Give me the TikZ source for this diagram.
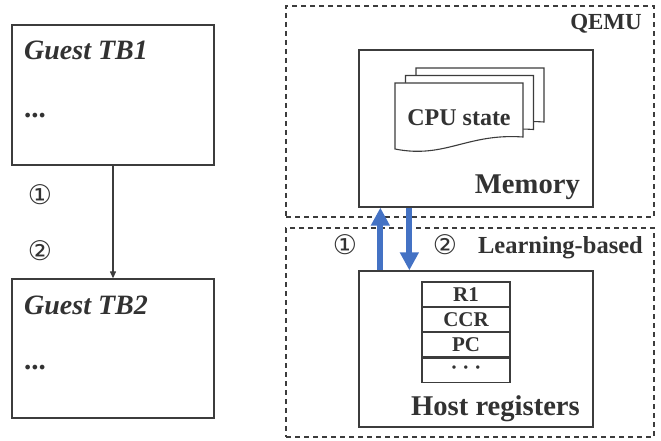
\documentclass[tikz,border=0pt]{standalone}
\usepackage{fontspec}
\setmainfont{Liberation Serif}
\newfontfamily\circfont{DejaVu Sans}
\usetikzlibrary{positioning,arrows.meta}
\definecolor{darkgrey}{RGB}{50,50,50}
\definecolor{boxgrey}{RGB}{60,60,60}
\definecolor{qblue}{RGB}{68,114,196}

\tikzset{
  solidbox/.style={draw=boxgrey, line width=1.3pt},
  dashbox/.style={draw=boxgrey, line width=1.2pt, dash pattern=on 5pt off 4pt},
  regcell/.style={draw=boxgrey, line width=1.1pt, minimum width=88pt,
    minimum height=24.25pt, font=\fontsize{21}{21}\selectfont\bfseries},
  guestlbl/.style={font=\fontsize{28}{28}\selectfont\bfseries\itshape},
  dotslbl/.style={font=\fontsize{29}{29}\selectfont\bfseries},
  biglbl/.style={font=\fontsize{28.6}{28.6}\selectfont\bfseries},
  arealbl/.style={font=\fontsize{23}{23}\selectfont\bfseries},
  circnum/.style={font=\fontsize{27}{27}\circfont},
  docline/.style={draw=boxgrey, fill=white, line width=1.1pt},
  linkarrow/.style={draw=boxgrey, line width=1.2pt, -{Triangle[length=7pt,width=6pt]}},
  bluearrow/.style={draw=qblue, line width=6pt, -{Triangle[length=18pt,width=18pt]}}
}

% one sheet of the CPU state stack, top left corner at (#1,#2)
\newcommand{\statesheet}[2]{%
  \path[docline, shift={(#1,#2)}] (0,0) -- (128,0) -- (128,54)
    .. controls (72,50) and (50,76) .. (0,66) -- cycle;
}

\begin{document}
\begin{tikzpicture}[x=1pt,y=-1pt, every node/.style={text=darkgrey, inner sep=0pt}]
  \useasboundingbox (0,0) rectangle (661,441);

  % guest blocks
  \node[solidbox, minimum width=202pt, minimum height=140pt] (tb1) at (113,95) {};
  \node[solidbox, minimum width=202pt, minimum height=139pt] (tb2) at (113,348.5) {};
  \node[guestlbl, anchor=base west] (tb1name) at (24,60) {Guest TB1};
  \node[dotslbl, anchor=base west] (tb1dots) at (24,118) {...};
  \node[guestlbl, anchor=base west] (tb2name) at (24,314) {Guest TB2};
  \node[dotslbl, anchor=base west] (tb2dots) at (24,369) {...};
  \draw[linkarrow] (tb1.south) -- (tb2.north);
  \node[circnum] (stepa) at (40,195) {①};
  \node[circnum] (stepb) at (40,251) {②};

  % QEMU and learning-based areas
  \node[dashbox, minimum width=368pt, minimum height=211pt] (qemu) at (470,111.5) {};
  \node[dashbox, minimum width=368pt, minimum height=209pt] (learn) at (470,332.5) {};
  \node[arealbl, anchor=base east] (qemuname) at (642,30) {QEMU};
  \node[arealbl, font=\fontsize{24.5}{24.5}\selectfont\bfseries, anchor=base east] (learnname) at (643,253) {Learning-based};

  % memory
  \node[solidbox, fill=white, minimum width=234pt, minimum height=157pt] (mem) at (476,128.5) {};
  \statesheet{416}{68}
  \statesheet{405.5}{75.5}
  \statesheet{395}{83}
  \node[arealbl, font=\fontsize{24}{24}\selectfont\bfseries, anchor=base] (cpustate) at (459,126) {CPU state};
  \node[biglbl, anchor=base east] (memname) at (580,193) {Memory};

  % host registers
  \node[solidbox, fill=white, minimum width=234pt, minimum height=156pt] (host) at (476,349) {};
  \node[regcell] (r1) at (466,294.125) {R1};
  \node[regcell, below=0pt of r1] (ccr) {CCR};
  \node[regcell, below=0pt of ccr] (pc) {PC};
  \node[regcell, below=0pt of pc] (more) {·\hspace{5pt}·\hspace{5pt}·};
  \node[biglbl, anchor=base east] (hostname) at (580,415) {Host registers};

  % load and store
  \draw[bluearrow] ([xshift=22pt]host.north west) -- ([xshift=22pt]mem.south west);
  \draw[bluearrow] ([xshift=51pt]mem.south west) -- ([xshift=51pt]host.north west);
  \node[circnum] (loadnum) at (345,245) {①};
  \node[circnum] (storenum) at (445,245) {②};
\end{tikzpicture}
\end{document}
